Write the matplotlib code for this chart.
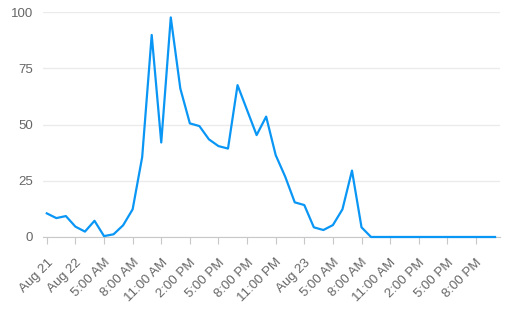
import matplotlib
matplotlib.use("Agg")
import matplotlib.pyplot as plt

values = [10.5, 8.4, 9.3, 4.6, 2.4, 7.2, 0.4, 1.2, 5.2, 12.3,
          35.5, 89.8, 42.0, 97.6, 66.0, 50.5, 49.3, 43.4, 40.4, 39.3,
          67.5, 56.4, 45.3, 53.5, 36.4, 26.8, 15.4, 14.2, 4.3, 3.1,
          5.3, 12.3, 29.5, 4.3, 0, 0, 0, 0, 0, 0,
          0, 0, 0, 0, 0, 0, 0, 0]
tick_labels = ["Aug 21", "Aug 22", "5:00 AM", "8:00 AM", "11:00 AM", "2:00 PM",
               "5:00 PM", "8:00 PM", "11:00 PM", "Aug 23", "5:00 AM", "8:00 AM",
               "11:00 AM", "2:00 PM", "5:00 PM", "8:00 PM"]
y_ticks = [0, 25, 50, 75, 100]

plt.rcParams["font.family"] = ["Liberation Sans", "DejaVu Sans"]

fig = plt.figure(figsize=(5.1, 3.12), dpi=100)
ax = fig.add_axes([0.0843, 0.2404, 0.8957, 0.7211])

x = list(range(len(values)))
ax.plot(x, values, color="#0a96f5", linewidth=1.6, clip_on=False, zorder=3)

ax.set_xlim(-0.4, len(values) - 0.5)
ax.set_ylim(0, 100)
ax.set_yticks(y_ticks)
ax.set_xticks(x[::3])
ax.set_xticklabels(tick_labels, rotation=45, ha="right", rotation_mode="anchor")

ax.grid(axis="y", color="#ebebeb", linewidth=1)
ax.set_axisbelow(True)
for side in ["top", "right", "left"]:
    ax.spines[side].set_visible(False)
ax.spines["bottom"].set_color("#c8c8c8")
ax.tick_params(axis="y", length=0, pad=7, labelsize=9.5, labelcolor="#666666")
ax.tick_params(axis="x", length=5, color="#c8c8c8", pad=9, labelsize=9.5, labelcolor="#666666")

fig.savefig("out.png", dpi=100)
